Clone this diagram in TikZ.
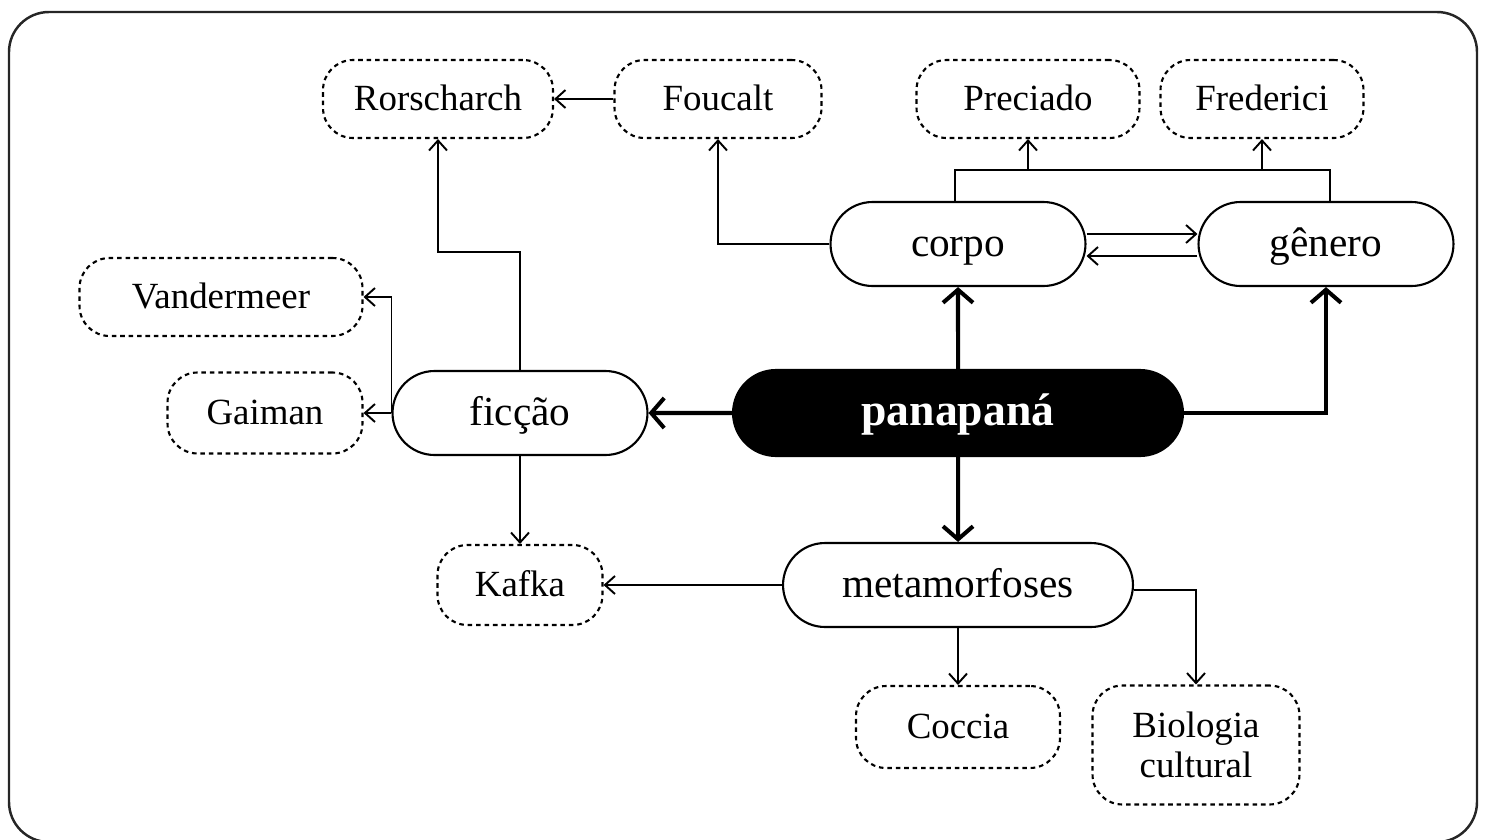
\documentclass[tikz,border=0pt]{standalone}
\usepackage{fontspec}
\setmainfont{Liberation Serif}
\usetikzlibrary{arrows.meta,shapes.misc}

\begin{document}
\begin{tikzpicture}[
  x=0.02cm, y=-0.02cm,
  hub/.style={
    draw,
    line width=1.2pt,
    rounded rectangle,
    minimum width=5.1cm,
    minimum height=1.68cm,
    inner sep=0pt,
    text height=17pt,
    text depth=3pt,
    fill=white,
    font=\fontsize{23.5}{26}\selectfont
  },
  core/.style={
    hub,
    fill=black,
    text=white,
    minimum width=9cm,
    minimum height=1.72cm,
    font=\fontsize{26}{30}\selectfont\bfseries
  },
  ref/.style={
    draw,
    line width=1.2pt,
    dash pattern=on 2.6pt off 2.2pt,
    rounded corners=0.6cm,
    minimum height=1.56cm,
    inner sep=0pt,
    text height=16pt,
    text depth=2.5pt,
    align=center,
    font=\fontsize{21}{23}\selectfont
  },
  link/.style={-{Straight Barb[length=2mm,width=3.6mm]}, line width=1.1pt},
  bond/.style={-{Straight Barb[length=2.6mm,width=6mm]}, line width=2.3pt}
]
  \useasboundingbox (0,0) rectangle (1485,839);
  % frame
  \draw[line width=1.4pt, draw=black!85, rounded corners=0.8cm] (9,12) rectangle (1477,842);

  % main nodes
  \node[core] (panapana) at (958,413) {panapaná};
  \node[hub] (corpo) at (958,244) {corpo};
  \node[hub] (genero) at (1326,244) {gênero};
  \node[hub] (ficcao) at (520,413) {ficção};
  \node[hub, minimum width=7cm] (metamorfoses) at (958,585) {metamorfoses};

  % references
  \node[ref, minimum width=4.6cm] (rorscharch) at (438,99) {Rorscharch};
  \node[ref, minimum width=4.14cm] (foucalt) at (718,99) {Foucalt};
  \node[ref, minimum width=4.46cm] (preciado) at (1028,99) {Preciado};
  \node[ref, minimum width=4.06cm] (frederici) at (1262,99) {Frederici};
  \node[ref, minimum width=5.66cm] (vandermeer) at (221,297) {Vandermeer};
  \node[ref, minimum width=3.9cm, minimum height=1.62cm] (gaiman) at (265,413) {Gaiman};
  \node[ref, minimum width=3.3cm, minimum height=1.6cm] (kafka) at (520,585) {Kafka};
  \node[ref, minimum width=4.08cm, minimum height=1.64cm] (coccia) at (958,727) {Coccia};
  \node[ref, minimum width=4.14cm, minimum height=2.38cm, text height=, text depth=] (biologia) at (1196,745) {Biologia\\cultural};

  % from the centre
  \draw[bond] (panapana) -- (corpo);
  \draw[bond] (panapana.east) -| (genero.south);
  \draw[bond] (panapana) -- (ficcao);
  \draw[bond] (panapana) -- (metamorfoses);

  % corpo and genero
  \draw[link] ([yshift=2mm]corpo.east) -- ([yshift=2mm]genero.west);
  \draw[link] ([yshift=-2.4mm]genero.west) -- ([yshift=-2.4mm]corpo.east);
  \draw[line width=1.1pt] ([xshift=-0.06cm]corpo.north) |- (corpo.north |- 0,170) coordinate (bar) -| ([xshift=0.08cm]genero.north);
  \draw[link] (preciado.south |- bar) -- (preciado.south);
  \draw[link] (frederici.south |- bar) -- (frederici.south);
  \draw[link] (corpo.west) -| (foucalt.south);
  \draw[link] (foucalt) -- (rorscharch);

  % ficcao
  \draw[link] (ficcao.north) -- (ficcao.north |- 0,252) -| (rorscharch.south);
  \draw[link] (ficcao.west) |- (vandermeer.east);
  \draw[link] (ficcao) -- (gaiman);
  \draw[link] (ficcao) -- (kafka);

  % metamorfoses
  \draw[link] (metamorfoses) -- (kafka);
  \draw[link] (metamorfoses) -- (coccia);
  \draw[link] ([yshift=-0.1cm]metamorfoses.east) -| (biologia.north);
\end{tikzpicture}
\end{document}
